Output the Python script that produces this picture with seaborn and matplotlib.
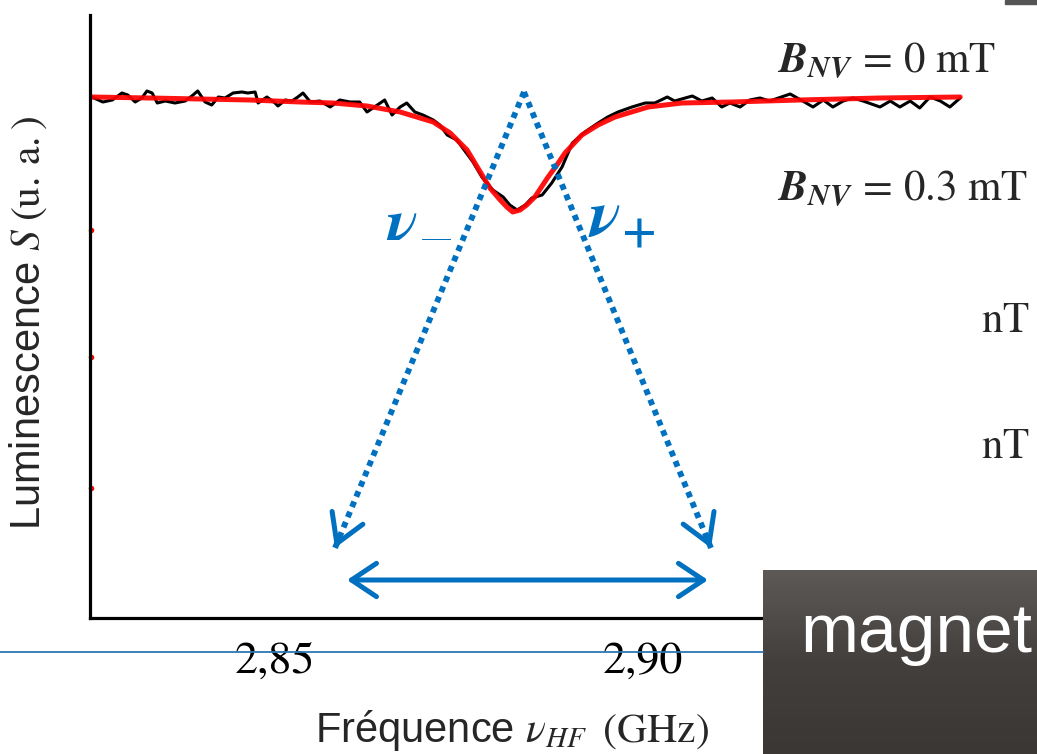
import numpy as np
import pandas as pd
import matplotlib.pyplot as plt
import seaborn as sns
from matplotlib.lines import Line2D
from matplotlib.patches import Rectangle
from matplotlib.colors import LinearSegmentedColormap

# Spectre ODMR mesuré (fréquence en GHz, signal en u.a.)
freq_mesure = [2.8251, 2.8266, 2.8279, 2.8292, 2.8300, 2.8310, 2.8319, 2.8326, 2.8333, 2.8340,
               2.8351, 2.8364, 2.8378, 2.8387, 2.8395, 2.8405, 2.8414, 2.8423, 2.8432, 2.8443,
               2.8455, 2.8463, 2.8473, 2.8477, 2.8489, 2.8500, 2.8504, 2.8514, 2.8523, 2.8531,
               2.8538, 2.8548, 2.8561, 2.8575, 2.8588, 2.8602, 2.8615, 2.8625, 2.8639, 2.8649,
               2.8659, 2.8670, 2.8679, 2.8690, 2.8701, 2.8715, 2.8724, 2.8734, 2.8747, 2.8755,
               2.8769, 2.8781, 2.8796, 2.8810, 2.8819, 2.8829, 2.8840, 2.8849, 2.8863, 2.8876,
               2.8890, 2.8904, 2.8921, 2.8939, 2.8952, 2.8966, 2.8985, 2.9003, 2.9016, 2.9033,
               2.9043, 2.9067, 2.9080, 2.9094, 2.9107, 2.9118, 2.9132, 2.9145, 2.9159, 2.9172,
               2.9200, 2.9217, 2.9231, 2.9245, 2.9258, 2.9272, 2.9285, 2.9299, 2.9322, 2.9336,
               2.9349, 2.9363, 2.9376, 2.9390, 2.9404, 2.9417, 2.9431]
signal_mesure = [521, 516, 518, 525, 523, 516, 520, 527, 525, 515,
                 517, 515, 517, 522, 527, 516, 513, 521, 520, 525,
                 526, 525, 526, 515, 521, 515, 512, 518, 517, 521,
                 525, 516, 517, 511, 518, 516, 516, 506, 513, 518,
                 503, 511, 515, 506, 503, 498, 493, 483, 478, 470,
                 456, 441, 428, 421, 413, 408, 413, 420, 423, 435,
                 451, 475, 486, 495, 501, 506, 511, 515, 515, 521,
                 517, 522, 517, 520, 511, 515, 511, 518, 520, 517,
                 524, 517, 511, 518, 511, 517, 520, 517, 511, 517,
                 511, 517, 510, 521, 517, 511, 520]

# Ajustement (courbe rouge)
freq_fit = [2.8251, 2.8330, 2.8398, 2.8466, 2.8534, 2.8579, 2.8625, 2.8670, 2.8715, 2.8738,
            2.8761, 2.8783, 2.8792, 2.8806, 2.8815, 2.8823, 2.8833, 2.8842, 2.8853, 2.8871,
            2.8883, 2.8894, 2.8908, 2.8917, 2.8939, 2.8962, 2.9007, 2.9053, 2.9121, 2.9213,
            2.9322, 2.9431]
signal_fit = [521, 520, 519, 518, 516, 515, 512, 506, 496, 485,
              468, 441, 430, 418, 411, 406, 408, 413, 421, 441,
              453, 465, 476, 483, 493, 501, 511, 515, 516, 518,
              520, 521]

# Départs des autres spectres (cachés)
stub_freq = [2.8250, 2.8250, 2.8250]
stub_signal = [388, 261, 130]

# Flèches nu- / nu+
sommet = (2.88383, 526)
pointes = [(2.85815, 70), (2.90924, 70)]
ecart = [(2.85978, 38), (2.90883, 38)]

ticks = [2.85, 2.90]
tick_labels = ["2,85", "2,90"]
champs = [r"$\mathbfit{B}_{\mathbfit{NV}}\, =\, 0\ \mathrm{mT}$",
          r"$\mathbfit{B}_{\mathbfit{NV}}\, =\, 0.3\ \mathrm{mT}$"]

bleu = "#0070C0"
W, H = 1037, 754

sns.set_style("white")
plt.rcParams["font.family"] = ["Liberation Sans", "DejaVu Sans"]
plt.rcParams["mathtext.fontset"] = "stix"

fig = plt.figure(figsize=(W / 100, H / 100), dpi=100)
ax = fig.add_axes([90 / W, (H - 618) / H, 910 / W, 603 / H])

df_mes = pd.DataFrame({"freq": freq_mesure, "S": signal_mesure})
df_fit = pd.DataFrame({"freq": freq_fit, "S": signal_fit})
sns.lineplot(data=df_mes, x="freq", y="S", color="black", lw=2.2, ax=ax, errorbar=None)
sns.lineplot(data=df_fit, x="freq", y="S", color="#ff0000", lw=3.6, alpha=0.92, ax=ax, errorbar=None)
sns.scatterplot(x=stub_freq, y=stub_signal, color="red", s=16, linewidth=0, ax=ax, clip_on=False)

# flèches pointillées
for px, py in pointes:
    ax.plot([sommet[0], px], [sommet[1], py], color=bleu, lw=4.2,
            linestyle=(0, (1, 0.9)), dash_capstyle="butt", zorder=5)
    ax.annotate("", xy=(px, py),
                xytext=(px + 0.02 * (sommet[0] - px), py + 0.02 * (sommet[1] - py)),
                arrowprops=dict(arrowstyle="->,head_length=1.0,head_width=0.6", color=bleu,
                                lw=3.6, mutation_scale=20, shrinkA=0, shrinkB=0), zorder=5)

ax.annotate("", xy=ecart[1], xytext=ecart[0],
            arrowprops=dict(arrowstyle="<->,head_length=0.9,head_width=0.6", color=bleu,
                            lw=3.6, mutation_scale=20, shrinkA=0, shrinkB=0))

ax.text(2.86495, 382, r"$\mathbfit{\nu}_{\mathbf{-}}$", color=bleu, fontsize=48,
        va="baseline", zorder=7)
ax.text(2.89253, 382, r"$\mathbfit{\nu}_{\mathbf{+}}$", color=bleu, fontsize=48,
        va="baseline", zorder=7)

ax.set_xlim(2.82486, 2.94851)
ax.set_ylim(0, 603)
ax.set_yticks([])
ax.set_xticks(ticks, labels=tick_labels, fontfamily="STIXGeneral", fontsize=33)
ax.tick_params(axis="x", direction="inout", length=10, width=1.6, pad=12, colors="black")
sns.despine(ax=ax)
for s in ["left", "bottom"]:
    ax.spines[s].set_linewidth(2.3)
    ax.spines[s].set_color("black")

ax.set_ylabel(r"Luminescence $S\;(\mathrm{u.\,a.})$", fontsize=30)
ax.yaxis.set_label_coords(-0.045, 0.489)
ax.set_xlabel(r"Fréquence $\nu_{HF}\;\;(\mathrm{GHz})$", fontsize=30)
ax.xaxis.set_label_coords(0.4637, -0.150)

# textes à droite
fig.text(777 / W, 1 - 72 / H, champs[0], fontsize=31, va="baseline")
fig.text(777 / W, 1 - 200 / H, champs[1], fontsize=31, va="baseline")
fig.text(1030 / W, 1 - 332 / H, r"$\mathrm{nT}$", fontsize=31, va="baseline", ha="right")
fig.text(1030 / W, 1 - 458 / H, r"$\mathrm{nT}$", fontsize=31, va="baseline", ha="right")

# ligne de la diapo
fig.add_artist(Line2D([0, 763 / W], [1 - 652 / H] * 2, color="#2E75B6", lw=1.3))
fig.add_artist(Rectangle((1005 / W, 1 - 4 / H), 32 / W, 4 / H, transform=fig.transFigure,
                         color="#555555"))

# cadre "magnet"
bax = fig.add_axes([763 / W, 0, 1 - 763 / W, 184 / H])
degrade = np.linspace(0, 1, 60).reshape(-1, 1)
cmap = LinearSegmentedColormap.from_list("box", ["#5d5957", "#433f3d", "#3b3735"])
bax.imshow(degrade, cmap=cmap, aspect="auto", extent=[0, 1, 0, 1], origin="upper")
bax.axis("off")
fig.text(800 / W, 1 - 652 / H, "magnet", color="white", fontsize=50,
         family=["Liberation Sans", "DejaVu Sans"], va="baseline")

fig.savefig("out.png", dpi=100)
plt.close()
